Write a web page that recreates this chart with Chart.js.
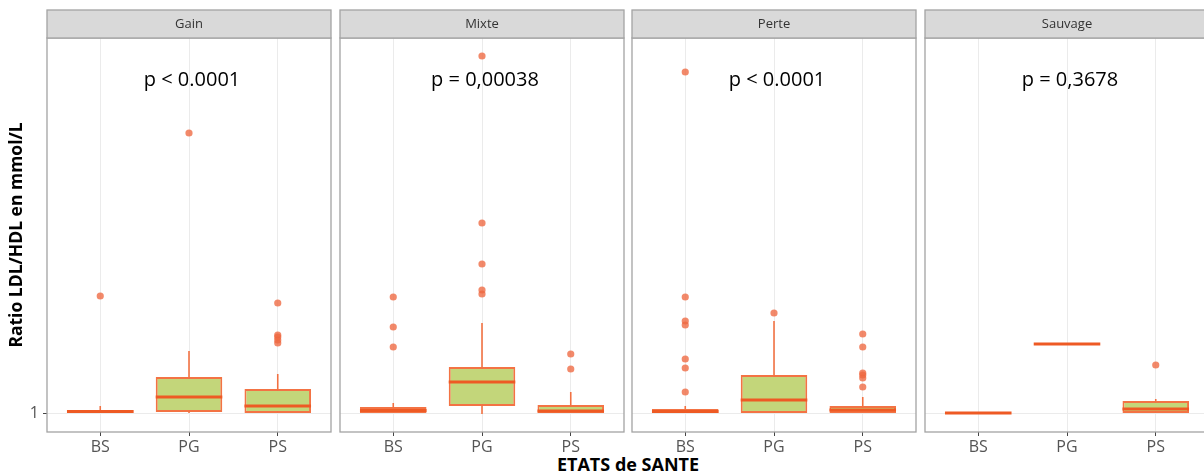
<!DOCTYPE html>
<html>
<head>
<meta charset="utf-8">
<script src="https://cdn.jsdelivr.net/npm/chart.js@4.4.1/dist/chart.umd.min.js"></script>
<style>
  html, body { margin: 0; padding: 0; background: #fff; width: 1204px; height: 476px; overflow: hidden; position: relative; }
  canvas { position: absolute; top: 0; }
  #xtitle { position: absolute; left: 47px; width: 1162px; top: 452px; text-align: center;
            font: bold 18px "Open Sans", sans-serif; color: #000; }
</style>
</head>
<body>
<div id="xtitle">ETATS de SANTE</div>
<script>
// data (one row per facet, one value per category)
const facets = ['Gain', 'Mixte', 'Perte', 'Sauvage']
const categories = ['BS', 'PG', 'PS']
const pLabels = ['p < 0.0001', 'p = 0,00038', 'p < 0.0001', 'p = 0,3678']

const whiskerLow = [[1.0, 1.0, 1.0], [1.0, 0.98, 1.0], [1.0, 1.0, 1.0], [1.0, 2.38, 1.0]]
const q1 = [[1.0, 1.02, 1.0], [1.0, 1.14, 1.0], [1.0, 1.0, 1.0], [1.0, 2.38, 1.0]]
const median = [[1.03, 1.32, 1.14], [1.05, 1.62, 1.04], [1.03, 1.26, 1.06], [1.0, 2.38, 1.08]]
const q3 = [[1.06, 1.72, 1.48], [1.12, 1.92, 1.16], [1.08, 1.76, 1.14], [1.0, 2.38, 1.24]]
const whiskerHigh = [[1.14, 2.24, 1.78], [1.2, 2.8, 1.42], [1.14, 2.84, 1.32], [1.0, 2.38, 1.28]]
const outliers = [
  [[3.34], [6.6], [3.2, 2.56, 2.52, 2.46, 2.4]],
  [[3.32, 2.72, 2.32], [8.14, 4.8, 3.98, 3.46, 3.38], [2.18, 1.88]],
  [[7.82, 3.32, 2.84, 2.76, 2.08, 1.9, 1.42], [3.0], [2.58, 2.32, 1.8, 1.76, 1.7, 1.52]],
  [[], [], [1.96]],
]
const yTicks = [1]

// layout
const panelLeft = [47, 340, 632, 925]
const PANEL_W = 284
const Y_MIN = 0.62
const Y_MAX = 8.5
const P_LABEL_Y = 7.54

const ORANGE = 'rgba(242,100,48,0.9)'
const MEDIAN = '#EE5A24'
const FILL = '#C3D67A'
const POINT = 'rgba(238,104,64,0.78)'
const FRAME = '#A3A3A3'

Chart.defaults.font.family = '"Open Sans", sans-serif'

const boxPlot = {
  id: 'boxplot',
  beforeDatasetsDraw(chart, args, opts) {
    const { ctx, scales: { x, y } } = chart
    const f = opts.facet
    ctx.save()
    ctx.strokeStyle = ORANGE
    ctx.lineWidth = 1.6
    categories.forEach((c, k) => {
      const px = x.getPixelForValue(k + 1)
      ctx.beginPath()
      ctx.moveTo(px, y.getPixelForValue(q3[f][k]))
      ctx.lineTo(px, y.getPixelForValue(whiskerHigh[f][k]))
      ctx.moveTo(px, y.getPixelForValue(q1[f][k]))
      ctx.lineTo(px, y.getPixelForValue(whiskerLow[f][k]))
      ctx.stroke()
    })
    ctx.restore()
  },
  afterDatasetsDraw(chart, args, opts) {
    const { ctx, scales: { x, y } } = chart
    const f = opts.facet
    ctx.save()
    ctx.strokeStyle = MEDIAN
    ctx.lineWidth = 3
    categories.forEach((c, k) => {
      const py = y.getPixelForValue(median[f][k])
      ctx.beginPath()
      ctx.moveTo(x.getPixelForValue(k + 1 - 0.375), py)
      ctx.lineTo(x.getPixelForValue(k + 1 + 0.375), py)
      ctx.stroke()
    })
    ctx.restore()
  },
  afterDraw(chart, args, opts) {
    const { ctx, chartArea: a, scales: { x, y } } = chart
    const f = opts.facet
    ctx.save()
    // panel frame
    ctx.strokeStyle = FRAME
    ctx.lineWidth = 1.3
    ctx.strokeRect(a.left, a.top, a.right - a.left, a.bottom - a.top)
    // strip
    ctx.fillStyle = '#D9D9D9'
    ctx.fillRect(a.left, 10, a.right - a.left, a.top - 10)
    ctx.strokeRect(a.left, 10, a.right - a.left, a.top - 10)
    ctx.fillStyle = '#333'
    ctx.font = '13px "Open Sans", sans-serif'
    ctx.textAlign = 'center'
    ctx.textBaseline = 'middle'
    ctx.fillText(facets[f], (a.left + a.right) / 2, (10 + a.top) / 2)
    // p value
    ctx.fillStyle = '#000'
    ctx.font = '20px "Open Sans", sans-serif'
    ctx.textBaseline = 'alphabetic'
    ctx.fillText(pLabels[f], x.getPixelForValue(2) + 3, y.getPixelForValue(P_LABEL_Y))
    ctx.restore()
  },
}

facets.forEach((name, i) => {
  const first = i === 0
  const canvas = document.createElement('canvas')
  const axisW = first ? 47 : 0
  const padLeft = first ? 0 : 1
  canvas.width = axisW + padLeft + PANEL_W + 1
  canvas.height = 476
  canvas.style.left = (panelLeft[i] - axisW - padLeft) + 'px'
  document.body.appendChild(canvas)

  const points = outliers[i].flatMap((vals, k) => vals.map(v => ({ x: k + 1, y: v })))
  const boxes = categories.map((c, k) => ({ x: k + 1, y: [q1[i][k], q3[i][k]] }))

  new Chart(canvas, {
    type: 'bar',
    data: {
      datasets: [
        {
          type: 'scatter',
          order: 0,
          data: points,
          backgroundColor: POINT,
          borderWidth: 0,
          pointRadius: 3.6,
        },
        {
          type: 'bar',
          order: 1,
          data: boxes,
          backgroundColor: FILL,
          borderColor: ORANGE,
          borderWidth: 2,
          borderSkipped: false,
          categoryPercentage: 1,
          barPercentage: 0.75,
        },
      ],
    },
    options: {
      responsive: false,
      animation: false,
      events: [],
      layout: { autoPadding: false, padding: { top: 38, right: 1, left: padLeft, bottom: 0 } },
      plugins: {
        legend: { display: false },
        tooltip: { enabled: false },
        boxplot: { facet: i },
      },
      scales: {
        x: {
          type: 'linear',
          min: 0.4,
          max: 3.6,
          offset: false,
          afterBuildTicks: (s) => { s.ticks = categories.map((c, k) => ({ value: k + 1 })) },
          afterFit: (s) => { s.height = 44 },
          grid: { offset: false, color: '#EBEBEB', tickColor: '#444', tickLength: 4, lineWidth: 1 },
          border: { display: false },
          ticks: {
            callback: (v) => categories[v - 1],
            color: '#555',
            font: { size: 16 },
            padding: 2,
            maxRotation: 0,
            autoSkip: false,
          },
        },
        y: {
          min: Y_MIN,
          max: Y_MAX,
          afterBuildTicks: (s) => { s.ticks = yTicks.map(v => ({ value: v })) },
          afterFit: (s) => { s.width = axisW },
          grid: { color: '#EBEBEB', tickColor: '#444', tickLength: 4, drawTicks: first },
          border: { display: false },
          ticks: { display: first, color: '#555', font: { size: 16 }, padding: 4 },
          title: {
            display: first,
            text: 'Ratio LDL/HDL en mmol/L',
            color: '#000',
            font: { size: 17.5, weight: 'bold' },
            padding: { top: 7, bottom: 0 },
          },
        },
      },
    },
    plugins: [boxPlot],
  })
})
</script>
</body>
</html>
